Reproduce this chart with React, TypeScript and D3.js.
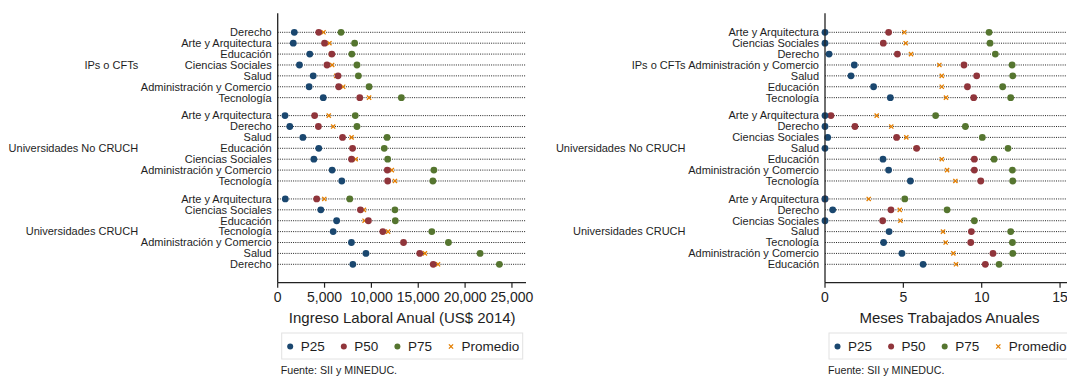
import React from "react";
import * as d3 from "d3";

const groups = ["IPs o CFTs", "Universidades No CRUCH", "Universidades CRUCH"];

// Left panel: Ingreso Laboral Anual (US$ 2014)
const incomeCats = [
  ["Derecho", "Arte y Arquitectura", "Educación", "Ciencias Sociales", "Salud", "Administración y Comercio", "Tecnología"],
  ["Arte y Arquitectura", "Derecho", "Salud", "Educación", "Ciencias Sociales", "Administración y Comercio", "Tecnología"],
  ["Arte y Arquitectura", "Ciencias Sociales", "Educación", "Tecnología", "Administración y Comercio", "Salud", "Derecho"],
];
const incomeP25 = [
  [1770, 1660, 3420, 2320, 3790, 3350, 4860],
  [780, 1290, 2690, 4380, 3860, 5810, 6840],
  [810, 4600, 6290, 5920, 7870, 9420, 8020],
];
const incomeP50 = [
  [4380, 5000, 5780, 5260, 6440, 6510, 8760],
  [3940, 4340, 6920, 7990, 7880, 11700, 11740],
  [4160, 8830, 9680, 11220, 13430, 15160, 16600],
];
const incomeP75 = [
  [6760, 8210, 7910, 8460, 8610, 9750, 13200],
  [8280, 8460, 11670, 11370, 11740, 16670, 16560],
  [7690, 12510, 12550, 16450, 18220, 21600, 23660],
];
const incomeMean = [
  [4890, 5520, 5700, 5810, 6250, 6990, 9750],
  [5450, 5920, 7880, 7950, 8320, 12180, 12510],
  [4970, 9200, 9270, 11780, 13400, 15710, 17110],
];
const incomeTicks = [0, 5000, 10000, 15000, 20000, 25000];

// Right panel: Meses Trabajados Anuales
const monthCats = [
  ["Arte y Arquitectura", "Ciencias Sociales", "Derecho", "Administración y Comercio", "Salud", "Educación", "Tecnología"],
  ["Arte y Arquitectura", "Derecho", "Ciencias Sociales", "Salud", "Educación", "Administración y Comercio", "Tecnología"],
  ["Arte y Arquitectura", "Derecho", "Ciencias Sociales", "Salud", "Tecnología", "Administración y Comercio", "Educación"],
];
const monthP25 = [
  [0, 0, 0.26, 1.87, 1.66, 3.1, 4.17],
  [0, 0, 0.17, 0, 3.7, 4.06, 5.45],
  [0, 0.49, 0, 4.09, 3.74, 4.91, 6.26],
];
const monthP50 = [
  [4.06, 3.72, 4.62, 8.87, 9.68, 9.09, 9.49],
  [0.38, 1.91, 4.57, 5.85, 9.53, 9.53, 9.94],
  [0, 4.21, 3.68, 9.34, 9.3, 10.72, 10.23],
];
const monthP75 = [
  [10.47, 10.53, 10.87, 11.94, 11.98, 11.34, 11.85],
  [7.06, 8.96, 10.04, 11.68, 10.79, 11.96, 11.98],
  [5.09, 7.79, 9.53, 11.85, 11.96, 11.98, 11.11],
];
const monthMean = [
  [5.06, 5.15, 5.49, 7.3, 7.45, 7.45, 7.72],
  [3.3, 4.23, 5.19, 5.8, 7.45, 7.79, 8.32],
  [2.79, 4.77, 4.81, 7.53, 7.7, 8.19, 8.36],
];
const monthTicks = [0, 5, 10, 15];

const seriesNames = ["P25", "P50", "P75", "Promedio"];
const colors = ["#1a476f", "#90353b", "#55752f", "#e37e00"];

const FONT = "Arial, 'Liberation Sans', Helvetica, sans-serif";
const TEXT = "#1e1e1e";

const rowIndex = d3.scaleLinear().domain([0, 2 * 7.65 + 6]).range([32.3, 264.3]);
const rowY = (g: number, r: number) => rowIndex(g * 7.65 + r);

type PanelProps = {
  x0: number;
  xScale: d3.ScaleLinear<number, number>;
  cats: string[][];
  p25: number[][];
  p50: number[][];
  p75: number[][];
  mean: number[][];
  ticks: number[];
  fmt: (v: number) => string;
  title: string;
};

function XMark({ cx, cy, color }: { cx: number; cy: number; color: string }) {
  const s = 2.1;
  return (
    <g stroke={color} strokeWidth={1.3}>
      <line x1={cx - s} y1={cy - s} x2={cx + s} y2={cy + s} />
      <line x1={cx - s} y1={cy + s} x2={cx + s} y2={cy - s} />
    </g>
  );
}

function Panel({ x0, xScale, cats, p25, p50, p75, mean, ticks, fmt, title }: PanelProps) {
  const [, xEnd] = xScale.range();
  const axisY = 282.7;
  const legendX = x0 + 4;
  const legendY = 333;
  return (
    <g fontFamily={FONT} fill={TEXT}>
      {groups.map((gname, g) => (
        <text key={gname} x={x0 - 139.5} y={rowY(g, 3)} dy="0.35em" textAnchor="end" fontSize={11}>
          {gname}
        </text>
      ))}
      {cats.map((list, g) =>
        list.map((c, r) => {
          const y = rowY(g, r);
          return (
            <g key={`${g}-${r}`}>
              <text x={x0 - 6} y={y} dy="0.35em" textAnchor="end" fontSize={11}>
                {c}
              </text>
              <line x1={x0} x2={xEnd} y1={y} y2={y} stroke="#222" strokeWidth={1} strokeDasharray="1 1.2" />
            </g>
          );
        })
      )}
      {cats.map((list, g) =>
        list.map((_, r) => {
          const y = rowY(g, r);
          return (
            <g key={`m-${g}-${r}`}>
              <XMark cx={xScale(mean[g][r])} cy={y} color={colors[3]} />
              <circle cx={xScale(p75[g][r])} cy={y} r={3.4} fill={colors[2]} />
              <circle cx={xScale(p50[g][r])} cy={y} r={3.4} fill={colors[1]} />
              <circle cx={xScale(p25[g][r])} cy={y} r={3.4} fill={colors[0]} />
            </g>
          );
        })
      )}
      <line x1={x0} x2={x0} y1={13.3} y2={axisY} stroke="#222" strokeWidth={1.3} />
      <line x1={x0} x2={xEnd} y1={axisY} y2={axisY} stroke="#222" strokeWidth={1.3} />
      {ticks.map((t) => (
        <g key={t}>
          <line x1={xScale(t)} x2={xScale(t)} y1={axisY} y2={axisY + 5} stroke="#222" strokeWidth={1.2} />
          <text x={xScale(t)} y={301.5} textAnchor="middle" fontSize={14}>
            {fmt(t)}
          </text>
        </g>
      ))}
      <text x={(x0 + x0 + 249) / 2} y={323} textAnchor="middle" fontSize={15}>
        {title}
      </text>
      <rect x={legendX} y={legendY} width={241} height={26} fill="none" stroke="#e2e2e2" strokeWidth={1} />
      {seriesNames.map((name, i) => {
        const cx = legendX + 8.5 + i * 53.6;
        const cy = legendY + 13.5;
        return (
          <g key={name}>
            {i < 3 ? (
              <circle cx={cx} cy={cy} r={3} fill={colors[i]} />
            ) : (
              <XMark cx={cx} cy={cy} color={colors[3]} />
            )}
            <text x={cx + 10.5} y={cy} dy="0.36em" fontSize={13.5}>
              {name}
            </text>
          </g>
        );
      })}
      <text x={x0 + 3} y={374} fontSize={10.7}>
        Fuente: SII y MINEDUC.
      </text>
    </g>
  );
}

export default function App() {
  const incomeX = d3.scaleLinear().domain([0, 26500]).range([277.7, 526]);
  const monthX = d3.scaleLinear().domain([0, 16]).range([825, 825 + 16 * 15.67]);
  const fmtIncome = d3.format(",");
  const fmtMonth = d3.format("d");
  return (
    <svg
      width={1067}
      height={376}
      style={{ position: "absolute", left: 0, top: 0, background: "#fff" }}
    >
      <rect width={1067} height={376} fill="#fff" />
      <Panel
        x0={277.7}
        xScale={incomeX}
        cats={incomeCats}
        p25={incomeP25}
        p50={incomeP50}
        p75={incomeP75}
        mean={incomeMean}
        ticks={incomeTicks}
        fmt={(v) => fmtIncome(v)}
        title="Ingreso Laboral Anual (US$ 2014)"
      />
      <Panel
        x0={825}
        xScale={monthX}
        cats={monthCats}
        p25={monthP25}
        p50={monthP50}
        p75={monthP75}
        mean={monthMean}
        ticks={monthTicks}
        fmt={(v) => fmtMonth(v)}
        title="Meses Trabajados Anuales"
      />
    </svg>
  );
}
